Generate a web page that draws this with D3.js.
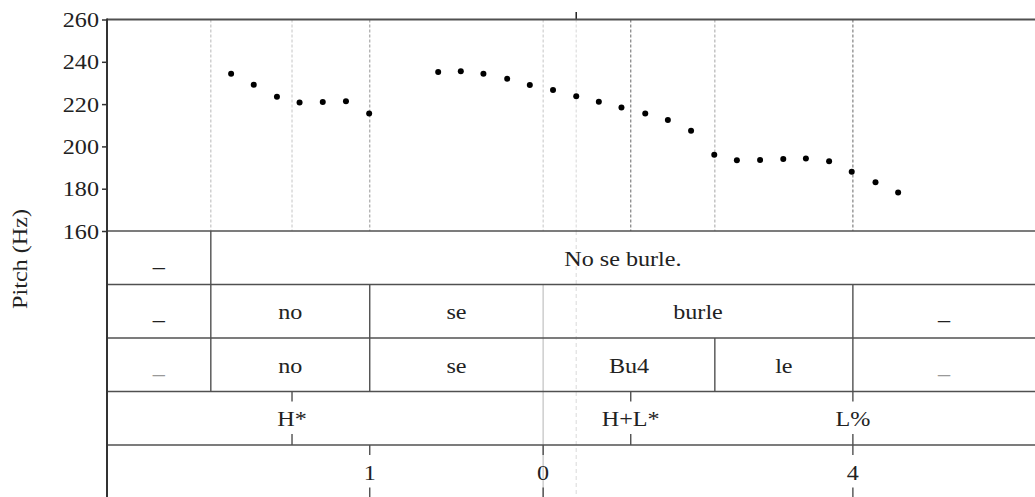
<!DOCTYPE html>
<html><head><meta charset="utf-8">
<script src="https://cdn.jsdelivr.net/npm/d3@7"></script>
<style>
html,body{margin:0;padding:0;background:#fff;}
svg{display:block;}
text{font-family:"Liberation Serif","Times New Roman",serif;fill:#222;}
</style></head>
<body>
<script>
// ---- data ----
const times = [0.214,0.253,0.293,0.332,0.372,0.412,0.452,
  0.571,0.610,0.649,0.690,0.729,0.769,0.809,0.848,0.887,0.928,0.967,1.007,
  1.047,1.086,1.126,1.166,1.205,1.245,1.284,1.325,1.364];
const pitch = [234.4,229.2,223.5,220.7,221.0,221.3,215.6,
  235.2,235.5,234.3,232.0,229.0,226.7,223.7,221.1,218.4,215.5,212.5,207.4,
  196.0,193.5,193.6,194.1,194.3,193.0,188.0,183.1,178.2];
const yTicks = [160,180,200,220,240,260];
const yLabel = "Pitch (Hz)";
const timeDomain = [0, 1.6];
const pitchDomain = [160, 260];

// interval tiers: bounds (s) and labels
const tier1Bounds = [0, 0.179, 1.6];
const tier1Labels = ["_", "No se burle."];
const tier2Bounds = [0, 0.179, 0.453, 0.752, 1.286, 1.6];
const tier2Labels = ["_", "no", "se", "burle", "_"];
const tier3Bounds = [0, 0.179, 0.453, 0.752, 1.048, 1.286, 1.6];
const tier3Labels = ["_", "no", "se", "Bu4", "le", "_"];
// point tiers
const tier4Times = [0.319, 0.903, 1.286];
const tier4Labels = ["H*", "H+L*", "L%"];
const tier5Times = [0.453, 0.752, 1.286];
const tier5Labels = ["1", "0", "4"];
// dotted guide lines in the pitch area (time, grey level)
const guideTimes = [0.179, 0.319, 0.453, 0.752, 0.809, 0.903, 1.048, 1.286];
const guideGreys = ["#c4c4c4", "#cfcfcf", "#a8a8a8", "#cfcfcf", "#dedede", "#808080", "#b4b4b4", "#808080"];
const cursorTime = 0.809;

// ---- layout ----
const W = 1035, H = 497;
const mLeft = 107, mRight = 1035, mTop = 19.5, plotBottom = 231, tierH = 53.5;
const FS = 21, SX = 1.15;
const lineCol = "#505050";

const svg = d3.select("body").append("svg").attr("width", W).attr("height", H);
const x = d3.scaleLinear().domain(timeDomain).range([mLeft, mRight]);
const y = d3.scaleLinear().domain(pitchDomain).range([plotBottom, mTop]);

function label(g, tx, ty, str, anchor, fill) {
  g.append("text")
    .attr("transform", `translate(${tx},${ty}) scale(${SX},1)`)
    .attr("text-anchor", anchor || "middle")
    .attr("font-size", FS)
    .style("fill", fill || "#222")
    .text(str);
}

// guide dashed lines in pitch area
svg.append("g").selectAll("line").data(guideTimes).join("line")
  .attr("x1", d => x(d)).attr("x2", d => x(d))
  .attr("y1", mTop).attr("y2", plotBottom)
  .attr("stroke", (d, i) => guideGreys[i]).attr("stroke-width", 1.2)
  .attr("stroke-dasharray", "3,2");

// cursor line through tiers
svg.append("line").attr("x1", x(cursorTime)).attr("x2", x(cursorTime))
  .attr("y1", plotBottom).attr("y2", H).attr("stroke", "#e0e0e0")
  .attr("stroke-width", 1.2).attr("stroke-dasharray", "4,3");
svg.append("line").attr("x1", x(cursorTime)).attr("x2", x(cursorTime))
  .attr("y1", 12).attr("y2", mTop).attr("stroke", "#222").attr("stroke-width", 1.5);

// grey boundary at se|burle through lower tiers
svg.append("line").attr("x1", x(0.752)).attr("x2", x(0.752))
  .attr("y1", plotBottom + tierH).attr("y2", H).attr("stroke", "#d0d0d0").attr("stroke-width", 1.6);

// pitch points
svg.append("g").selectAll("circle").data(times).join("circle")
  .attr("cx", d => x(d)).attr("cy", (d, i) => y(pitch[i]))
  .attr("r", 3).attr("fill", "#000");

// horizontal frame lines
const hLines = [mTop, plotBottom, plotBottom + tierH, plotBottom + 2 * tierH, plotBottom + 3 * tierH, plotBottom + 4 * tierH];
svg.append("g").selectAll("line").data(hLines).join("line")
  .attr("x1", mLeft).attr("x2", mRight).attr("y1", d => d).attr("y2", d => d)
  .attr("stroke", lineCol).attr("stroke-width", (d, i) => i === 0 ? 2 : 1.4);

// interval tiers
const intervalTiers = [[tier1Bounds, tier1Labels], [tier2Bounds, tier2Labels], [tier3Bounds, tier3Labels]];
intervalTiers.forEach(([b, labs], ti) => {
  const t0 = plotBottom + ti * tierH, t1 = t0 + tierH;
  const g = svg.append("g");
  b.slice(1, -1).forEach(bt => {
    if (Math.abs(bt - 0.752) < 1e-6) return; // grey boundary drawn above
    g.append("line").attr("x1", x(bt)).attr("x2", x(bt)).attr("y1", t0).attr("y2", t1)
      .attr("stroke", lineCol).attr("stroke-width", 1.4);
  });
  labs.forEach((l, i) => {
    const cx = (x(b[i]) + x(b[i + 1])) / 2;
    const fill = (l === "_" && ti === 2) ? "#999" : "#222";
    label(g, cx, (t0 + t1) / 2 + 8, l, "middle", fill);
  });
});

// point tiers
const pointTiers = [[tier4Times, tier4Labels], [tier5Times, tier5Labels]];
pointTiers.forEach(([pts, labs], ti) => {
  const t0 = plotBottom + (3 + ti) * tierH, t1 = t0 + tierH;
  const g = svg.append("g");
  pts.forEach((p, i) => {
    g.append("line").attr("x1", x(p)).attr("x2", x(p)).attr("y1", t0).attr("y2", t0 + 10)
      .attr("stroke", lineCol).attr("stroke-width", 1.4);
    g.append("line").attr("x1", x(p)).attr("x2", x(p)).attr("y1", t1 - 11).attr("y2", t1)
      .attr("stroke", lineCol).attr("stroke-width", 1.4);
    label(g, x(p), (t0 + t1) / 2 + 8, labs[i]);
  });
});

// left axis
svg.append("line").attr("x1", mLeft).attr("x2", mLeft).attr("y1", mTop - 1).attr("y2", H)
  .attr("stroke", "#333").attr("stroke-width", 2);
const ax = svg.append("g").attr("transform", `translate(${mLeft},0)`)
  .call(d3.axisLeft(y).tickValues(yTicks).tickSize(5).tickSizeOuter(0));
ax.select(".domain").remove();
ax.selectAll(".tick line").attr("stroke", "#333").attr("stroke-width", 1.5);
ax.selectAll(".tick text")
  .attr("font-size", FS).attr("font-family", "Liberation Serif")
  .attr("x", -7).attr("dy", "0.34em")
  .attr("transform", `scale(${SX},1)`)
  .style("fill", "#222");

// y label
svg.append("text")
  .attr("transform", `translate(27,259) rotate(-90) scale(${SX},1)`)
  .attr("text-anchor", "middle").attr("font-size", FS)
  .text(yLabel);
</script>
</body></html>
